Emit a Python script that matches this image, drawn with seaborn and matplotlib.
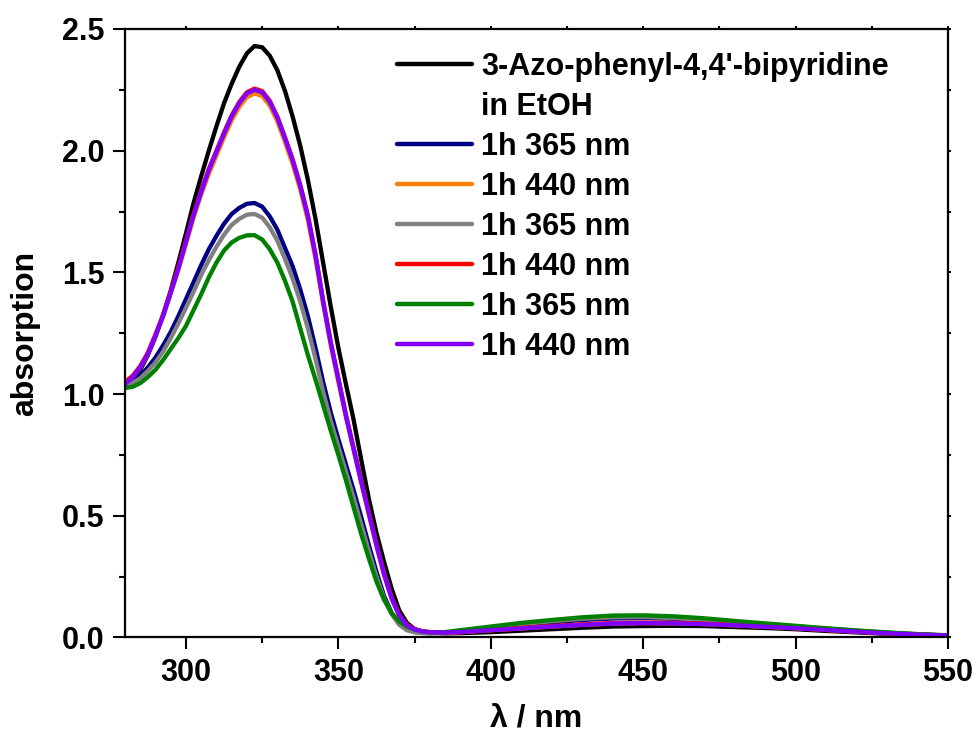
import numpy as np
import pandas as pd
import matplotlib
matplotlib.use("Agg")
import matplotlib.pyplot as plt
from matplotlib.lines import Line2D
import seaborn as sns
from matplotlib.ticker import MultipleLocator

# wavelength grid (nm)
wl = [280, 282.5, 285, 287.5, 290, 292.5, 295, 297.5, 300, 302.5, 305, 307.5, 310, 312.5,
      315, 317.5, 320, 322.5, 325, 327.5, 330, 332.5, 335, 337.5, 340, 342.5, 345, 347.5,
      350, 352.5, 355, 357.5, 360, 362.5, 365, 367.5, 370, 372.5, 375, 377.5, 380,
      385, 390, 400, 410, 420, 430, 440, 450, 460, 470, 480, 490, 500, 510, 520, 530, 540, 550]

initial = [1.040, 1.065, 1.10, 1.16, 1.235, 1.325, 1.425, 1.54, 1.66, 1.785, 1.895, 2.00, 2.10, 2.195,
           2.275, 2.345, 2.40, 2.43, 2.425, 2.39, 2.33, 2.245, 2.14, 2.02, 1.88, 1.72, 1.54, 1.36,
           1.19, 1.04, 0.895, 0.73, 0.57, 0.43, 0.31, 0.20, 0.11, 0.06, 0.035, 0.024, 0.019,
           0.017, 0.018, 0.022, 0.028, 0.034, 0.040, 0.045, 0.047, 0.048, 0.047, 0.043, 0.039,
           0.034, 0.027, 0.021, 0.015, 0.010, 0.007]
uv1 = [1.035, 1.05, 1.075, 1.11, 1.15, 1.20, 1.255, 1.32, 1.39, 1.46, 1.53, 1.595, 1.65, 1.70,
       1.74, 1.765, 1.782, 1.785, 1.77, 1.73, 1.675, 1.60, 1.525, 1.43, 1.32, 1.19, 1.05, 0.925,
       0.815, 0.71, 0.605, 0.495, 0.38, 0.27, 0.17, 0.10, 0.055, 0.032, 0.023, 0.019, 0.018,
       0.02, 0.025, 0.037, 0.05, 0.062, 0.072, 0.078, 0.08, 0.077, 0.07, 0.062, 0.053,
       0.044, 0.035, 0.027, 0.019, 0.013, 0.008]
vis1 = [1.04, 1.07, 1.11, 1.165, 1.24, 1.32, 1.415, 1.51, 1.615, 1.725, 1.82, 1.905, 1.98, 2.055,
        2.125, 2.18, 2.22, 2.235, 2.225, 2.185, 2.12, 2.035, 1.945, 1.84, 1.715, 1.555, 1.37, 1.20,
        1.05, 0.905, 0.77, 0.635, 0.505, 0.375, 0.255, 0.158, 0.09, 0.05, 0.033, 0.025, 0.022,
        0.02, 0.022, 0.03, 0.037, 0.045, 0.052, 0.057, 0.059, 0.058, 0.055, 0.05, 0.044,
        0.038, 0.031, 0.024, 0.017, 0.012, 0.008]
uv2 = [1.03, 1.045, 1.065, 1.095, 1.13, 1.175, 1.23, 1.29, 1.355, 1.42, 1.49, 1.55, 1.605, 1.655,
       1.695, 1.72, 1.737, 1.74, 1.725, 1.685, 1.63, 1.555, 1.475, 1.38, 1.27, 1.145, 1.01, 0.89,
       0.785, 0.68, 0.575, 0.465, 0.355, 0.25, 0.16, 0.095, 0.052, 0.03, 0.021, 0.018, 0.017,
       0.02, 0.027, 0.04, 0.055, 0.067, 0.077, 0.083, 0.084, 0.08, 0.072, 0.064, 0.055,
       0.046, 0.036, 0.028, 0.02, 0.013, 0.008]
vis2 = [1.05, 1.075, 1.115, 1.17, 1.245, 1.325, 1.42, 1.52, 1.63, 1.74, 1.835, 1.925, 2.0, 2.075,
        2.145, 2.2, 2.24, 2.255, 2.245, 2.205, 2.14, 2.055, 1.965, 1.86, 1.735, 1.575, 1.385, 1.215,
        1.065, 0.915, 0.78, 0.645, 0.515, 0.385, 0.265, 0.165, 0.092, 0.052, 0.034, 0.026, 0.022,
        0.02, 0.022, 0.031, 0.039, 0.047, 0.054, 0.059, 0.061, 0.06, 0.057, 0.052, 0.046,
        0.04, 0.032, 0.025, 0.018, 0.012, 0.008]
uv3 = [1.025, 1.03, 1.045, 1.07, 1.10, 1.14, 1.185, 1.23, 1.28, 1.345, 1.41, 1.48, 1.54, 1.59,
       1.623, 1.642, 1.652, 1.653, 1.635, 1.595, 1.54, 1.465, 1.38, 1.27, 1.16, 1.06, 0.955, 0.85,
       0.75, 0.645, 0.535, 0.425, 0.325, 0.23, 0.155, 0.10, 0.065, 0.045, 0.033, 0.025, 0.021,
       0.022, 0.03, 0.045, 0.06, 0.072, 0.083, 0.09, 0.091, 0.087, 0.079, 0.068, 0.058,
       0.048, 0.038, 0.029, 0.021, 0.014, 0.009]
vis3 = [1.04, 1.07, 1.11, 1.165, 1.24, 1.32, 1.415, 1.515, 1.625, 1.735, 1.83, 1.92, 1.995, 2.07,
        2.14, 2.195, 2.235, 2.25, 2.24, 2.20, 2.135, 2.05, 1.96, 1.855, 1.73, 1.57, 1.38, 1.21,
        1.06, 0.91, 0.775, 0.64, 0.51, 0.38, 0.26, 0.16, 0.09, 0.05, 0.033, 0.025, 0.022,
        0.02, 0.022, 0.03, 0.037, 0.045, 0.052, 0.057, 0.059, 0.058, 0.055, 0.05, 0.044,
        0.038, 0.031, 0.024, 0.017, 0.012, 0.008]

labels = ["3-Azo-phenyl-4,4'-bipyridine", "1h 365 nm", "1h 440 nm",
          "1h 365 nm ", "1h 440 nm ", "1h 365 nm  ", "1h 440 nm  "]
label_line2 = "in EtOH"
series = [initial, uv1, vis1, uv2, vis2, uv3, vis3]
colors = ["#000000", "#000080", "#FF8000", "#808080", "#FF0000", "#008000", "#8000FF"]
xticks = [300, 350, 400, 450, 500, 550]
yticks = [0.0, 0.5, 1.0, 1.5, 2.0, 2.5]

df = pd.concat([pd.DataFrame({"wl": wl, "abs": s, "run": lab}) for s, lab in zip(series, labels)],
               ignore_index=True)

sns.set_style("ticks")
plt.rcParams["font.family"] = ["Liberation Sans", "DejaVu Sans"]
plt.rcParams["font.weight"] = "bold"
for k in ["text.color", "axes.labelcolor", "xtick.color", "ytick.color", "axes.edgecolor"]:
    plt.rcParams[k] = "black"

fig = plt.figure(figsize=(9.78, 7.47), dpi=100)
ax = fig.add_axes([0.1278, 0.1466, 0.9693 - 0.1278, 0.9612 - 0.1466])

sns.lineplot(data=df, x="wl", y="abs", hue="run", hue_order=labels,
             palette=dict(zip(labels, colors)), linewidth=3.1, ax=ax, sort=True)

ax.set_xlim(280, 550)
ax.set_ylim(0, 2.5)
ax.set_xticks(xticks)
ax.set_yticks(yticks)
ax.set_xticklabels([str(t) for t in xticks])
ax.set_yticklabels([f"{t:.1f}" for t in yticks])
ax.xaxis.set_minor_locator(MultipleLocator(25))
ax.yaxis.set_minor_locator(MultipleLocator(0.25))
for s in ax.spines.values():
    s.set_linewidth(1.6)
    s.set_visible(True)
ax.tick_params(which="major", direction="out", length=8.5, width=1.5, labelsize=22,
               top=True, right=True, pad=6)
ax.tick_params(which="minor", direction="out", length=4.5, width=1.5, top=True, right=True)
for t in ax.xaxis.get_major_ticks() + ax.xaxis.get_minor_ticks():
    t.tick2line.set_markersize(2)
for t in ax.yaxis.get_major_ticks() + ax.yaxis.get_minor_ticks():
    t.tick2line.set_markersize(2)
for lab in ax.get_xticklabels() + ax.get_yticklabels():
    lab.set_fontweight("bold")

ax.set_xlabel("λ / nm", fontsize=23, fontweight="bold", labelpad=12)
ax.set_ylabel("absorption", fontsize=23, fontweight="bold", labelpad=16)

handles, labs = ax.get_legend_handles_labels()
blank = Line2D([], [], color="none")
handles = [handles[0], blank] + handles[1:]
labs = [labs[0], label_line2] + labs[1:]
leg = ax.legend(handles, [l.strip() for l in labs], loc="upper left",
                bbox_to_anchor=(0.305, 0.998), frameon=False,
                handlelength=2.45, handletextpad=0.3, labelspacing=0.33,
                borderaxespad=0.3, prop={"weight": "bold", "size": 22})
for h in leg.get_lines():
    h.set_linewidth(3.2)

fig.savefig("out.png", dpi=100)
